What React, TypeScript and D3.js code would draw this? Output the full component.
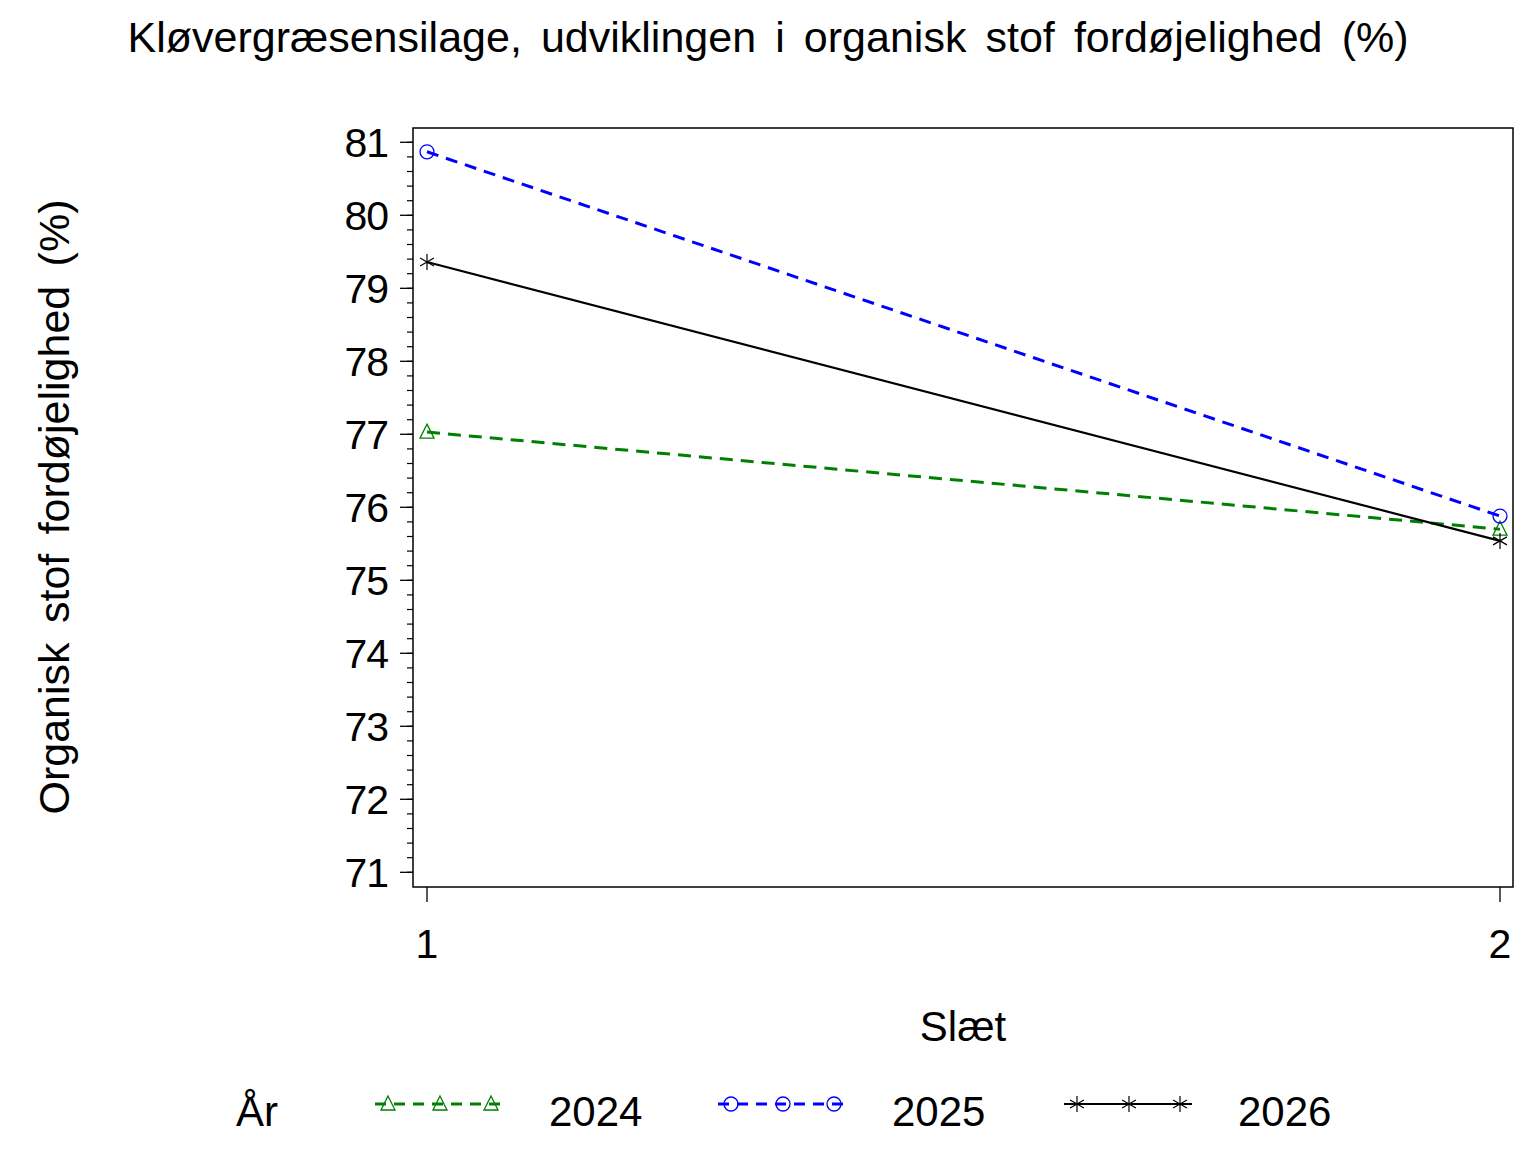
import React, { useEffect, useRef } from 'react';
import * as d3 from 'd3';

const slaet = [1, 2];
const years = ['2024', '2025', '2026'];
const values2024 = [77.03, 75.7];
const values2025 = [80.87, 75.88];
const values2026 = [79.36, 75.54];
const yTicks = [71, 72, 73, 74, 75, 76, 77, 78, 79, 80, 81];

const titleText = 'Kløvergræsensilage, udviklingen i organisk stof fordøjelighed (%)';
const yLabelText = 'Organisk stof fordøjelighed (%)';
const xLabelText = 'Slæt';
const legendTitle = 'År';

type SymbolKind = 'triangle' | 'circle' | 'star';

interface Series {
  name: string;
  values: number[];
  color: string;
  dash: string | null;
  width: number;
  symbol: SymbolKind;
}

const seriesList: Series[] = [
  { name: years[0], values: values2024, color: '#008000', dash: '13,8', width: 3, symbol: 'triangle' },
  { name: years[1], values: values2025, color: '#0000ff', dash: '12,8', width: 3, symbol: 'circle' },
  { name: years[2], values: values2026, color: '#000000', dash: null, width: 2.2, symbol: 'star' },
];

const W = 1536;
const H = 1152;
const FONT = '"Liberation Sans", Arial, Helvetica, sans-serif';

function drawSymbol(g: d3.Selection<SVGGElement, unknown, null, undefined>, kind: SymbolKind, x: number, y: number, color: string) {
  if (kind === 'circle') {
    g.append('circle')
      .attr('cx', x)
      .attr('cy', y)
      .attr('r', 7)
      .attr('fill', 'none')
      .attr('stroke', color)
      .attr('stroke-width', 1.3);
  } else if (kind === 'triangle') {
    g.append('path')
      .attr('d', `M${x},${y - 8}L${x + 7},${y + 6}L${x - 7},${y + 6}Z`)
      .attr('fill', 'none')
      .attr('stroke', color)
      .attr('stroke-width', 1.3);
  } else {
    const r = 8;
    const dx = r * Math.cos(Math.PI / 6);
    const dy = r * Math.sin(Math.PI / 6);
    g.append('path')
      .attr('d', `M${x},${y - r}L${x},${y + r}M${x - dx},${y - dy}L${x + dx},${y + dy}M${x - dx},${y + dy}L${x + dx},${y - dy}`)
      .attr('fill', 'none')
      .attr('stroke', color)
      .attr('stroke-width', 1.2);
  }
}

// spread words so the text fills a given length (SAS-style justified titles)
function spreadWords(sel: d3.Selection<SVGTextElement, unknown, null, undefined>, target: number) {
  const node = sel.node();
  if (!node) return;
  const natural = node.getComputedTextLength();
  const spaces = (node.textContent || '').split(' ').length - 1;
  if (spaces > 0) sel.attr('word-spacing', (target - natural) / spaces);
}

const App: React.FC = () => {
  const svgRef = useRef<SVGSVGElement | null>(null);

  useEffect(() => {
    document.body.style.margin = '0';
    if (!svgRef.current) return;

    const svg = d3.select(svgRef.current).attr('width', W).attr('height', H);
    svg.selectAll('*').remove();

    const frame = { left: 413, right: 1513, top: 128, bottom: 887 };

    const xScale = d3.scaleLinear().domain([1, 2]).range([427, 1500]);
    const yScale = d3.scaleLinear().domain([71, 81]).range([872.3, 142.3]);

    svg.append('rect').attr('width', W).attr('height', H).attr('fill', '#fff');

    // title
    const title = svg.append('text')
      .attr('x', W / 2)
      .attr('y', 52)
      .attr('text-anchor', 'middle')
      .attr('font-family', FONT)
      .attr('font-size', 43)
      .attr('fill', '#000')
      .text(titleText);
    spreadWords(title, 1281);

    // frame
    svg.append('rect')
      .attr('x', frame.left)
      .attr('y', frame.top)
      .attr('width', frame.right - frame.left)
      .attr('height', frame.bottom - frame.top)
      .attr('fill', 'none')
      .attr('stroke', '#000')
      .attr('stroke-width', 1.5);

    // y axis ticks
    const minor = d3.range(71, 81.001, 0.2);
    svg.selectAll('line.minor')
      .data(minor)
      .enter()
      .append('line')
      .attr('class', 'minor')
      .attr('x1', frame.left - 6)
      .attr('x2', frame.left)
      .attr('y1', d => yScale(d))
      .attr('y2', d => yScale(d))
      .attr('stroke', '#000')
      .attr('stroke-width', 1.2);
    svg.selectAll('line.major')
      .data(yTicks)
      .enter()
      .append('line')
      .attr('class', 'major')
      .attr('x1', frame.left - 13)
      .attr('x2', frame.left)
      .attr('y1', d => yScale(d))
      .attr('y2', d => yScale(d))
      .attr('stroke', '#000')
      .attr('stroke-width', 1.3);
    svg.selectAll('text.ytick')
      .data(yTicks)
      .enter()
      .append('text')
      .attr('class', 'ytick')
      .attr('x', 388)
      .attr('y', d => yScale(d) + 15)
      .attr('text-anchor', 'end')
      .attr('font-family', FONT)
      .attr('font-size', 41)
      .attr('letter-spacing', -1)
      .text(d => d);

    // x axis ticks
    svg.selectAll('line.xtick')
      .data(slaet)
      .enter()
      .append('line')
      .attr('class', 'xtick')
      .attr('x1', d => xScale(d))
      .attr('x2', d => xScale(d))
      .attr('y1', frame.bottom)
      .attr('y2', frame.bottom + 15)
      .attr('stroke', '#000')
      .attr('stroke-width', 1.3);
    svg.selectAll('text.xtick')
      .data(slaet)
      .enter()
      .append('text')
      .attr('class', 'xtick')
      .attr('x', d => xScale(d))
      .attr('y', 958)
      .attr('text-anchor', 'middle')
      .attr('font-family', FONT)
      .attr('font-size', 41)
      .text(d => d);

    // axis labels
    svg.append('text')
      .attr('x', 963)
      .attr('y', 1041)
      .attr('text-anchor', 'middle')
      .attr('font-family', FONT)
      .attr('font-size', 42)
      .text(xLabelText);
    const yLabel = svg.append('text')
      .attr('transform', `translate(69,507) rotate(-90)`)
      .attr('text-anchor', 'middle')
      .attr('font-family', FONT)
      .attr('font-size', 43)
      .text(yLabelText);
    spreadWords(yLabel, 615);

    // lines
    const line = d3.line<number>()
      .x((_, i) => xScale(slaet[i]))
      .y(d => yScale(d));

    seriesList.forEach(s => {
      svg.append('path')
        .datum(s.values)
        .attr('d', line)
        .attr('fill', 'none')
        .attr('stroke', s.color)
        .attr('stroke-width', s.width)
        .attr('stroke-dasharray', s.dash)
        .attr('stroke-linecap', 'butt');
    });
    const marks = svg.append('g');
    seriesList.forEach(s => {
      s.values.forEach((v, i) => drawSymbol(marks, s.symbol, xScale(slaet[i]), yScale(v), s.color));
    });

    // legend
    const legendY = 1104;
    svg.append('text')
      .attr('x', 236)
      .attr('y', 1126)
      .attr('font-family', FONT)
      .attr('font-size', 42)
      .text(legendTitle);
    const legendX = [375, 718, 1064];
    const lg = svg.append('g');
    seriesList.forEach((s, i) => {
      const x0 = legendX[i];
      lg.append('line')
        .attr('x1', x0)
        .attr('x2', x0 + 128)
        .attr('y1', legendY)
        .attr('y2', legendY)
        .attr('stroke', s.color)
        .attr('stroke-width', s.width)
        .attr('stroke-dasharray', s.dash ? '11,8' : null);
      [13, 65, 116].forEach(o => drawSymbol(lg, s.symbol, x0 + o, legendY, s.color));
      lg.append('text')
        .attr('x', x0 + 174)
        .attr('y', 1126)
        .attr('font-family', FONT)
        .attr('font-size', 42)
        .text(s.name);
    });
  }, []);

  return (
    <div style={{ width: W, height: H }}>
      <svg ref={svgRef} style={{ width: W, height: H, display: 'block' }} />
    </div>
  );
};

export default App;
